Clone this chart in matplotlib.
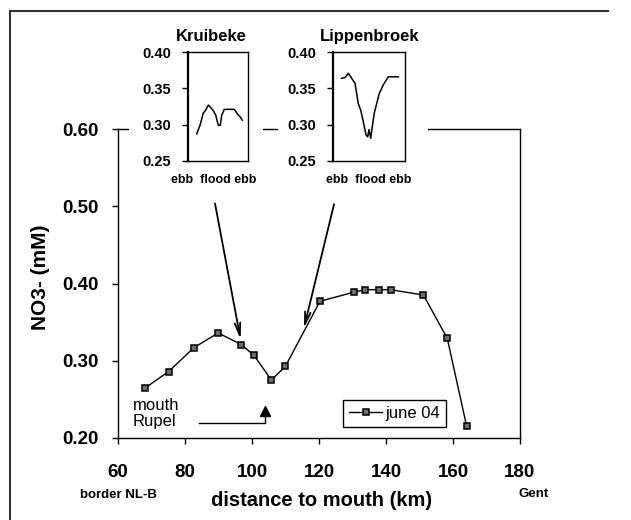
import numpy as np
import matplotlib.pyplot as plt
from matplotlib.patches import Rectangle
from matplotlib.lines import Line2D

plt.rcParams['font.family'] = ['Liberation Sans', 'DejaVu Sans']

# Nitrate along the estuary, June 2004
km = [68.2, 75.1, 82.7, 89.9, 96.8, 100.6, 105.8, 110.0, 120.3,
      130.6, 133.8, 137.8, 141.4, 151.2, 158.3, 164.1]
no3 = [0.265, 0.286, 0.317, 0.336, 0.321, 0.307, 0.275, 0.293, 0.377,
       0.389, 0.392, 0.392, 0.392, 0.385, 0.329, 0.215]

# tidal cycles at the two marsh sites (fraction of the cycle, mM)
krui_t = [0.145, 0.20, 0.255, 0.295, 0.338, 0.383, 0.422, 0.462, 0.505,
          0.538, 0.562, 0.605, 0.672, 0.772, 0.828, 0.867, 0.905]
krui_no3 = [0.287, 0.299, 0.316, 0.320, 0.327, 0.323, 0.319, 0.313, 0.299,
            0.299, 0.313, 0.321, 0.321, 0.321, 0.314, 0.311, 0.306]
lipp_t = [0.12, 0.167, 0.213, 0.26, 0.306, 0.329, 0.351, 0.385, 0.421, 0.458,
          0.482, 0.50, 0.524, 0.546, 0.574, 0.607, 0.643, 0.699, 0.768, 0.907]
lipp_no3 = [0.364, 0.365, 0.371, 0.364, 0.357, 0.343, 0.329, 0.320, 0.304, 0.286,
            0.283, 0.293, 0.281, 0.297, 0.316, 0.329, 0.343, 0.355, 0.366, 0.366]

# arrows from the insets down to the sites (km, mM)
krui_arrow = [(88.96, 0.5036), (96.6, 0.3277)]
lipp_arrow = [(124.5, 0.5027), (115.5, 0.342)]
rupel_km = 104.0

fig = plt.figure(figsize=(6.31, 5.2), dpi=100)
ax = fig.add_axes([0.187, 0.1577, 0.637, 0.5942])

ax.plot(km, no3, color='black', lw=1, marker='s', ms=5, mfc='#6e6e6e',
        mec='black', mew=1.1, label='june 04')
ax.set_xlim(60, 180)
ax.set_ylim(0.2, 0.6)
ax.set_xticks(np.arange(60, 181, 20))
ax.set_yticks([0.2, 0.3, 0.4, 0.5, 0.6])
ax.set_yticklabels(['0.20', '0.30', '0.40', '0.50', '0.60'])
ax.tick_params(direction='out', length=4, width=1, labelsize=13.5)
ax.tick_params(axis='y', pad=10)
ax.tick_params(axis='x', pad=15)
for lab in ax.get_xticklabels() + ax.get_yticklabels():
    lab.set_fontweight('bold')
for s in ax.spines.values():
    s.set_linewidth(1)

ax.set_xlabel('distance to mouth (km)', fontsize=14.5, fontweight='bold')
ax.xaxis.set_label_coords(0.507, -0.17)
ax.set_ylabel('NO3- (mM)', fontsize=15, fontweight='bold')
ax.yaxis.set_label_coords(-0.17, 0.52)

ax.text(0.0, -0.185, 'border NL-B', transform=ax.transAxes, ha='center',
        va='center', fontsize=9.5, fontweight='bold')
ax.text(1.035, -0.18, 'Gent', transform=ax.transAxes, ha='center',
        va='center', fontsize=9.5, fontweight='bold')

# mouth of the Rupel tributary
ax.text(64.5, 0.2425, 'mouth', fontsize=12, va='center')
ax.text(64.5, 0.2215, 'Rupel', fontsize=12, va='center')
ax.plot([84.2, rupel_km, rupel_km], [0.2198, 0.2198, 0.229], color='black', lw=1)
ax.plot([rupel_km], [0.2345], marker='^', color='black', ms=7)

for (x0, y0), (x1, y1) in [krui_arrow, lipp_arrow]:
    ax.annotate('', xy=(x1, y1), xytext=(x0, y0),
                arrowprops=dict(arrowstyle='->,head_length=0.9,head_width=0.2',
                                lw=1.3, color='black', shrinkA=0, shrinkB=0))

leg = ax.legend(loc='lower left', bbox_to_anchor=(0.56, 0.036), borderaxespad=0,
                fontsize=12, handlelength=2.0, handletextpad=0.2,
                borderpad=0.35, fancybox=False, framealpha=1)
leg.get_frame().set_edgecolor('black')
leg.get_frame().set_linewidth(1)

# white patches hide the top spine behind the insets
for x0, x1 in [(129, 263), (278, 428)]:
    fig.add_artist(Rectangle((x0 / 631, 1 - 140 / 520), (x1 - x0) / 631, 22 / 520,
                             transform=fig.transFigure, facecolor='white',
                             edgecolor='none', zorder=1))


def inset(rect, t, v, title, tx, xlx):
    a = fig.add_axes(rect)
    a.set_zorder(2)
    a.plot(t, v, color='black', lw=1.1)
    a.set_xlim(0, 1)
    a.set_ylim(0.25, 0.40)
    a.set_yticks([0.25, 0.30, 0.35, 0.40])
    a.set_yticklabels(['0.25', '0.30', '0.35', '0.40'])
    a.set_xticks([])
    a.tick_params(axis='y', direction='out', length=4, width=1, pad=8,
                  labelsize=10.5)
    for lab in a.get_yticklabels():
        lab.set_fontweight('bold')
    for s in a.spines.values():
        s.set_linewidth(1)
    a.spines['left'].set_linewidth(1.6)
    a.set_title(title, fontsize=12, fontweight='bold', x=tx, pad=8)
    a.set_xlabel('ebb  flood ebb', fontsize=9, fontweight='bold')
    a.xaxis.set_label_coords(xlx, -0.12)
    return a


inset([0.298, 0.691, 0.095, 0.2085], krui_t, krui_no3, 'Kruibeke', 0.38, 0.42)
inset([0.5277, 0.691, 0.1141, 0.2085], lipp_t, lipp_no3, 'Lippenbroek', 0.51, 0.49)

# page frame
fig.add_artist(Line2D([10 / 631, 608 / 631], [1 - 11 / 520, 1 - 11 / 520],
                      transform=fig.transFigure, color='#333333', lw=1.5))
fig.add_artist(Line2D([9.5 / 631, 9.5 / 631], [0, 1 - 11 / 520],
                      transform=fig.transFigure, color='#333333', lw=1.5))

fig.savefig('out.png', dpi=100)
